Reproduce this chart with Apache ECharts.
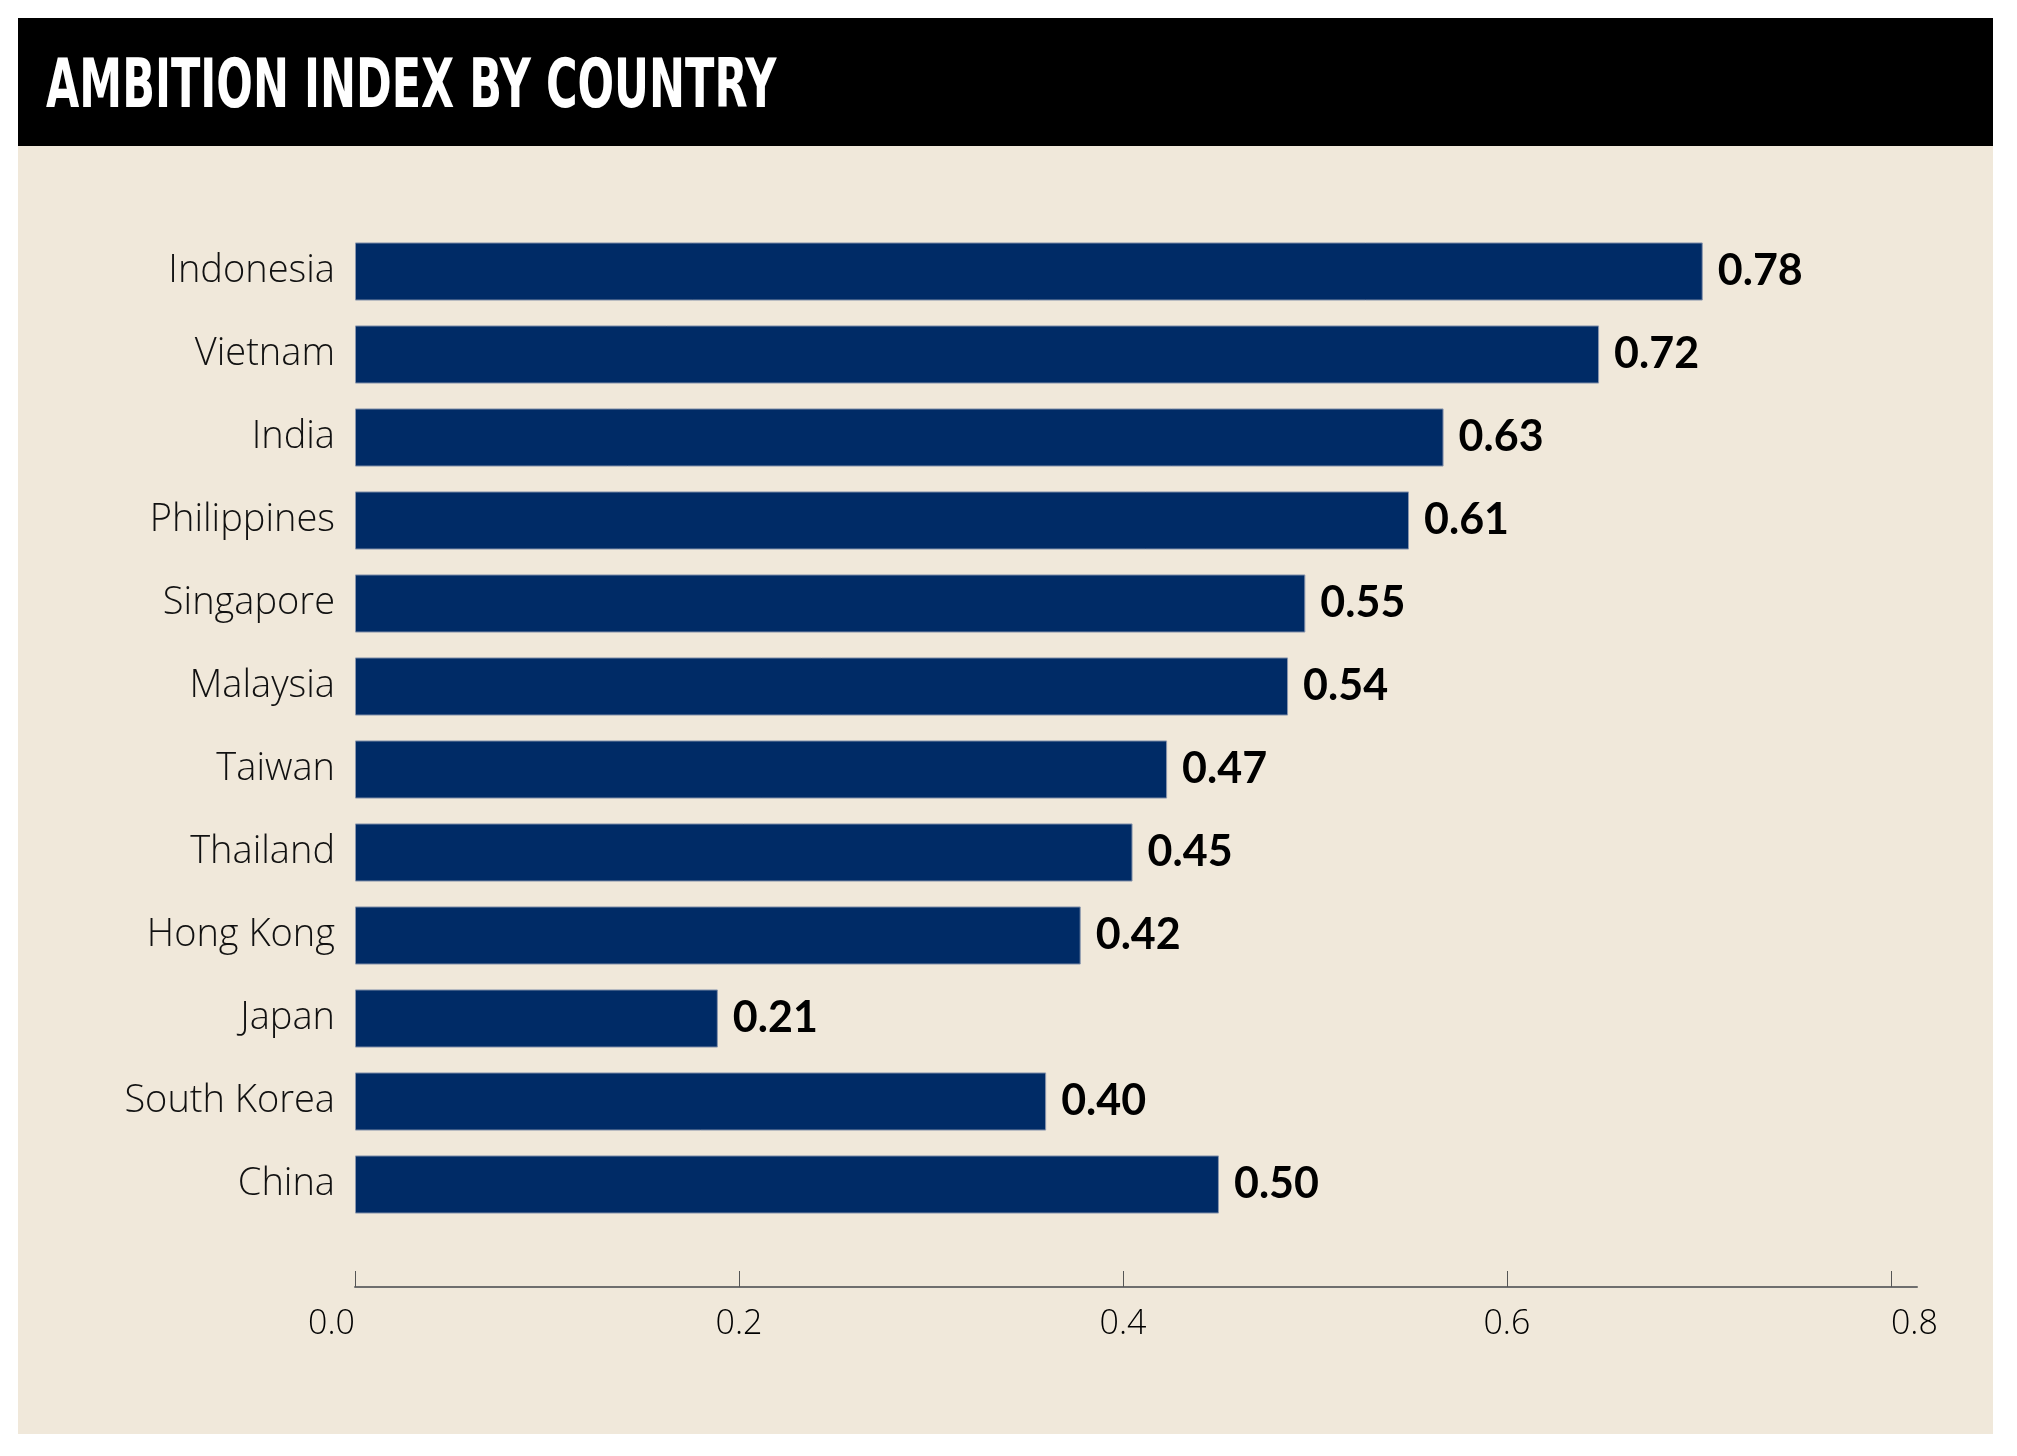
<!DOCTYPE html>
<html>
<head>
<meta charset="utf-8">
<script src="https://cdn.jsdelivr.net/npm/echarts@6/dist/echarts.min.js"></script>
<style>
html,body{margin:0;padding:0;background:#fff;}
#chart{width:2017px;height:1456px;}
</style>
</head>
<body>
<div id="chart"></div>
<script>
// ---- data ----
const titleText = 'AMBITION INDEX BY COUNTRY';
const countries = ['Indonesia','Vietnam','India','Philippines','Singapore','Malaysia','Taiwan','Thailand','Hong Kong','Japan','South Korea','China'];
const ambitionIndex = [0.78,0.72,0.63,0.61,0.55,0.54,0.47,0.45,0.42,0.21,0.40,0.50];
// axis tick labels as printed in the original (the printed axis is 0.9x the bar scale)
const axisTickLabels = [0.0,0.2,0.4,0.6,0.8];
const axisPrintScale = 0.9;

const tickValues = axisTickLabels.map(v => v / axisPrintScale);

const chart = echarts.init(document.getElementById('chart'));
chart.setOption({
  backgroundColor: '#ffffff',
  animation: false,
  graphic: [
    {type:'rect', z:-10, shape:{x:18,y:146,width:1975,height:1288}, style:{fill:'#F0E8DA'}},
    {type:'rect', z:-10, shape:{x:18,y:18,width:1975,height:128}, style:{fill:'#000000'}},
    {type:'text', x:46, y:89, scaleX:0.633, style:{text:titleText, x:0, y:0, align:'left', verticalAlign:'middle', fill:'#ffffff', font:'bold 68px "DejaVu Sans"'}}
  ],
  grid: {left:355, right:100, top:230, bottom:230, containLabel:false},
  xAxis: {
    type:'value', min:0, max:0.904, offset:61,
    splitLine:{show:false},
    axisLine:{show:true, lineStyle:{color:'#6e6e6e', width:2}},
    axisTick:{show:true, inside:true, length:16, customValues:tickValues, lineStyle:{color:'#555', width:1}},
    axisLabel:{show:true, customValues:tickValues, margin:20, color:'#000', fontSize:34,
      fontFamily:'"Open Sans",sans-serif', fontWeight:300,
      alignMinLabel:'right', alignMaxLabel:'left',
      formatter:(v)=>{ const i = tickValues.findIndex(t=>Math.abs(t-v)<1e-6); return i>=0 ? axisTickLabels[i].toFixed(1) : ''; }}
  },
  yAxis: {
    type:'category', data:countries, inverse:true,
    axisLine:{show:false}, axisTick:{show:false}, splitLine:{show:false},
    axisLabel:{margin:20, color:'#111', fontSize:38, fontFamily:'"Open Sans",sans-serif', fontWeight:300}
  },
  series: [{
    type:'bar', data:ambitionIndex, barCategoryGap:'30%',
    itemStyle:{color:'#002B66', borderColor:'#8a96ad', borderWidth:1},
    label:{show:true, position:'right', distance:15, color:'#000', fontSize:43, fontWeight:'bold', fontFamily:'Lato,sans-serif',
      formatter:(p)=>p.value.toFixed(2)}
  }]
});
</script>
</body>
</html>
